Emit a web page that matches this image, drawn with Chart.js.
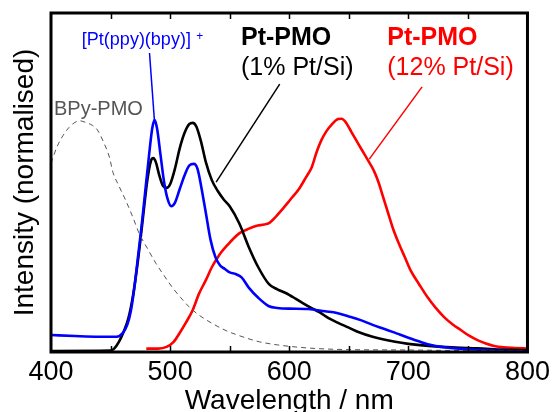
<!DOCTYPE html>
<html>
<head>
<meta charset="utf-8">
<script src="https://cdn.jsdelivr.net/npm/chart.js@4/dist/chart.umd.min.js"></script>
<style>
  body { margin: 0; background: #fff; }
  #wrap { width: 554px; height: 412px; }
</style>
</head>
<body>
<div id="wrap"><canvas id="chartPL" width="554" height="412"></canvas></div>
<script>
// emission spectra (wavelength nm, normalised intensity)
const bpyWl = [400, 405, 410, 415, 420, 424, 430, 435, 439, 444, 449, 452, 457, 463, 469, 474, 481, 488, 495, 502, 509, 516, 525, 535, 547, 555, 565, 575, 590, 602, 615, 630, 650, 700, 750, 800];
const bpyInt = [0.557, 0.605, 0.638, 0.662, 0.677, 0.682, 0.676, 0.668, 0.655, 0.62, 0.575, 0.53, 0.49, 0.445, 0.395, 0.35, 0.305, 0.262, 0.225, 0.19, 0.16, 0.133, 0.107, 0.085, 0.063, 0.052, 0.04, 0.03, 0.021, 0.016, 0.012, 0.009, 0.007, 0.006, 0.004, 0.003];

const ptComplexWl = [400, 420, 440, 455, 460, 464, 467, 470, 473, 476, 479, 482, 485, 487, 489, 492, 495, 498, 501, 504, 508, 512, 516, 520, 523, 526, 530, 534, 538, 542, 546, 550, 555, 560, 566, 574, 583, 590, 600, 616, 630, 640, 650, 660, 670, 680, 690, 700, 710, 720, 735, 750, 770, 790, 800];
const ptComplexInt = [0.05, 0.047, 0.045, 0.045, 0.055, 0.08, 0.12, 0.19, 0.28, 0.37, 0.47, 0.57, 0.66, 0.684, 0.66, 0.58, 0.5, 0.45, 0.43, 0.44, 0.48, 0.52, 0.55, 0.555, 0.54, 0.49, 0.41, 0.33, 0.28, 0.255, 0.245, 0.235, 0.23, 0.22, 0.19, 0.16, 0.135, 0.13, 0.128, 0.127, 0.12, 0.115, 0.105, 0.094, 0.08, 0.068, 0.055, 0.042, 0.03, 0.02, 0.012, 0.008, 0.004, 0.002, 0.002];

const pmo1Wl = [400, 450, 453, 457, 461, 465, 469, 473, 477, 481, 484, 486, 488, 491, 494, 497, 500, 504, 508, 512, 516, 519, 522, 526, 530, 535, 540, 545, 550, 558, 566, 574, 583, 590, 597, 605, 611, 620, 625, 633, 641, 650, 658, 670, 689, 700, 717, 740, 758, 780, 800];
const pmo1Int = [0.003, 0.004, 0.01, 0.03, 0.06, 0.1, 0.17, 0.27, 0.39, 0.51, 0.565, 0.572, 0.56, 0.52, 0.49, 0.484, 0.495, 0.54, 0.6, 0.645, 0.672, 0.676, 0.665, 0.62, 0.56, 0.507, 0.475, 0.45, 0.43, 0.38, 0.31, 0.25, 0.2, 0.185, 0.174, 0.158, 0.145, 0.127, 0.118, 0.1, 0.086, 0.072, 0.059, 0.045, 0.03, 0.024, 0.018, 0.013, 0.011, 0.007, 0.005];

const pmo12Wl = [480, 490, 497, 503, 508, 513, 519, 524, 530, 535, 541, 548, 558, 565, 572, 579, 583, 589, 594, 601, 608, 614, 619, 623, 627, 631, 636, 641, 644, 648, 652, 657, 662, 666, 671, 675, 679, 683, 687, 692, 697, 702, 709, 716, 723, 730, 737, 744, 751, 758, 765, 772, 780, 789, 800];
const pmo12Int = [0.01, 0.01, 0.015, 0.03, 0.056, 0.085, 0.124, 0.17, 0.212, 0.25, 0.285, 0.315, 0.35, 0.362, 0.372, 0.376, 0.38, 0.4, 0.42, 0.45, 0.48, 0.515, 0.546, 0.59, 0.625, 0.65, 0.672, 0.687, 0.688, 0.675, 0.65, 0.62, 0.59, 0.566, 0.535, 0.5, 0.455, 0.41, 0.365, 0.32, 0.28, 0.24, 0.2, 0.162, 0.13, 0.103, 0.082, 0.065, 0.048, 0.035, 0.025, 0.018, 0.014, 0.012, 0.01];

const xTicks = [400, 500, 600, 700, 800];
const minorTicks = [450, 500, 550, 600, 650, 700, 750];

// labels + leader lines (data units)
const notes = [
  { lines: [{ text: '[Pt(ppy)(bpy)]', x: 425.9, y: 0.906, bold: false, size: 18 }], sup: { text: '+', x: 522, y: 0.92, size: 12 }, color: '#0000ff', leader: [482.7, 0.882, 486.8, 0.684] },
  { lines: [{ text: 'BPy-PMO', x: 402.5, y: 0.699, bold: false, size: 20 }], color: '#555555' },
  { lines: [{ text: 'Pt-PMO', x: 559.5, y: 0.906, bold: true, size: 25 }, { text: '(1% Pt/Si)', x: 559.5, y: 0.817, bold: false, size: 25 }], color: '#000000', leader: [592, 0.79, 538.6, 0.501] },
  { lines: [{ text: 'Pt-PMO', x: 682.3, y: 0.906, bold: true, size: 25 }, { text: '(12% Pt/Si)', x: 682.3, y: 0.817, bold: false, size: 25 }], color: '#ff0000', leader: [711.5, 0.782, 667.2, 0.569] }
];

const FONT = '"Liberation Sans", Arial, sans-serif';

function toPoints(xs, ys) {
  return xs.map((x, i) => ({ x: x, y: ys[i] }));
}

const frameAndNotes = {
  id: 'frameAndNotes',
  afterDatasetsDraw(chart) {
    const { ctx, chartArea: a, scales: { x, y } } = chart;
    ctx.save();
    // inward ticks top and bottom
    ctx.strokeStyle = '#000';
    ctx.lineWidth = 1.5;
    minorTicks.forEach(v => {
      const px = Math.round(x.getPixelForValue(v)) + 0.5;
      ctx.beginPath();
      ctx.moveTo(px, a.bottom); ctx.lineTo(px, a.bottom - 6);
      ctx.moveTo(px, a.top); ctx.lineTo(px, a.top + 6);
      ctx.stroke();
    });
    // frame
    ctx.lineWidth = 3;
    ctx.strokeRect(a.left, a.top, a.right - a.left, a.bottom - a.top);

    // annotations
    notes.forEach(n => {
      ctx.fillStyle = n.color;
      ctx.strokeStyle = n.color;
      ctx.textBaseline = 'alphabetic';
      ctx.textAlign = 'left';
      n.lines.forEach(l => {
        ctx.font = (l.bold ? 'bold ' : '') + l.size + 'px ' + FONT;
        ctx.fillText(l.text, x.getPixelForValue(l.x), y.getPixelForValue(l.y));
      });
      if (n.sup) {
        ctx.font = n.sup.size + 'px ' + FONT;
        ctx.fillText(n.sup.text, x.getPixelForValue(n.sup.x), y.getPixelForValue(n.sup.y));
      }
      if (n.leader) {
        ctx.lineWidth = 1.5;
        ctx.beginPath();
        ctx.moveTo(x.getPixelForValue(n.leader[0]), y.getPixelForValue(n.leader[1]));
        ctx.lineTo(x.getPixelForValue(n.leader[2]), y.getPixelForValue(n.leader[3]));
        ctx.stroke();
      }
    });
    ctx.restore();
  }
};

const ctx = document.getElementById('chartPL').getContext('2d');

new Chart(ctx, {
  type: 'scatter',
  data: {
    datasets: [
      { label: 'BPy-PMO', data: toPoints(bpyWl, bpyInt), borderColor: '#555555', borderWidth: 1, borderDash: [5, 4] },
      { label: '[Pt(ppy)(bpy)]+', data: toPoints(ptComplexWl, ptComplexInt), borderColor: '#0000ff', borderWidth: 2.6 },
      { label: 'Pt-PMO 1%', data: toPoints(pmo1Wl, pmo1Int), borderColor: '#000000', borderWidth: 2.6 },
      { label: 'Pt-PMO 12%', data: toPoints(pmo12Wl, pmo12Int), borderColor: '#ff0000', borderWidth: 2.6 }
    ].map(d => Object.assign(d, { showLine: true, pointRadius: 0, cubicInterpolationMode: 'monotone', fill: false }))
  },
  options: {
    responsive: false,
    animation: false,
    devicePixelRatio: 1,
    layout: { padding: { top: 13, right: 24, left: 0, bottom: 0 } },
    plugins: { legend: { display: false }, tooltip: { enabled: false } },
    scales: {
      x: {
        type: 'linear',
        min: 400,
        max: 800,
        afterBuildTicks: s => { s.ticks = xTicks.map(v => ({ value: v })); },
        ticks: { color: '#000', font: { family: FONT, size: 27 }, padding: 4, maxRotation: 0 },
        grid: { display: false, drawTicks: false },
        border: { display: false },
        title: { display: true, text: 'Wavelength / nm', color: '#000', font: { family: FONT, size: 28, lineHeight: 1 }, padding: { top: 0, bottom: -3 } },
        afterFit: s => { s.height = 60; }
      },
      y: {
        min: 0,
        max: 1,
        ticks: { display: false },
        grid: { display: false, drawTicks: false },
        border: { display: false },
        title: { display: true, text: 'Intensity (normalised)', color: '#000', font: { family: FONT, size: 28, lineHeight: 1 }, padding: { top: 11, bottom: 0 } },
        afterFit: s => { s.width = 51; }
      }
    }
  },
  plugins: [frameAndNotes]
});
</script>
</body>
</html>
